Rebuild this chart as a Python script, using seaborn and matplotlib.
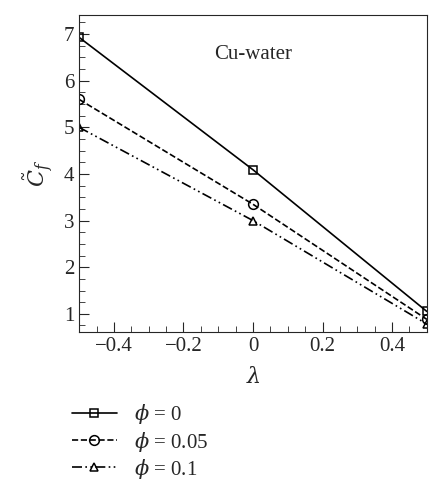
import matplotlib
matplotlib.use("Agg")
import matplotlib.pyplot as plt
import seaborn as sns
import pandas as pd
from matplotlib.ticker import MultipleLocator

lam = [-0.5, 0.0, 0.5]
cf_phi0 = [6.93, 4.09, 1.05]
cf_phi005 = [5.60, 3.35, 0.88]
cf_phi01 = [5.00, 3.00, 0.78]
labels = [r"$\phi$ = 0", r"$\phi$ = 0.05", r"$\phi$ = 0.1"]

sns.set_style("ticks")
plt.rcParams['font.family'] = ['Liberation Serif', 'DejaVu Serif']
plt.rcParams['mathtext.fontset'] = 'dejavuserif'

fig = plt.figure(figsize=(4.47, 5.0), dpi=100)
ax = fig.add_axes([0.177, 0.336, 0.778, 0.634])

styles = [("-", "s", 5.5), ("--", "o", 7), ((0, (6, 2, 1, 2, 1, 2)), "^", 6)]
for vals, lab, (ls, mk, ms) in zip([cf_phi0, cf_phi005, cf_phi01], labels, styles):
    df = pd.DataFrame({"lam": lam, "cf": vals})
    sns.lineplot(data=df, x="lam", y="cf", ax=ax, color="black", linestyle=ls, lw=1.2,
                 marker=mk, markersize=ms, markerfacecolor="none",
                 markeredgecolor="black", markeredgewidth=1.1, label=lab)

ax.set_xlim(-0.5, 0.5)
ax.set_ylim(0.61, 7.41)
ax.xaxis.set_major_locator(MultipleLocator(0.2))
ax.xaxis.set_minor_locator(MultipleLocator(0.05))
ax.yaxis.set_major_locator(MultipleLocator(1))
ax.yaxis.set_minor_locator(MultipleLocator(0.25))
ax.set_xticks([-0.4, -0.2, 0, 0.2, 0.4])
ax.set_xticklabels(["\u22120.4", "\u22120.2", "0", "0.2", "0.4"])
ax.tick_params(which="both", direction="in", top=False, right=False, labelsize=15)
ax.tick_params(which="major", length=7)
ax.tick_params(which="minor", length=4)
ax.set_xlabel(r"$\lambda$", fontsize=16, labelpad=8)
ax.set_ylabel(r"$\tilde{C}_f$", fontsize=16, labelpad=6)
ax.text(0.5, 0.86, "Cu-water", transform=ax.transAxes, ha="center", fontsize=15)

handles, labs = ax.get_legend_handles_labels()
ax.legend_.remove()
fig.legend(handles, labs, loc="upper left", bbox_to_anchor=(0.16, 0.195), frameon=False,
           fontsize=15, handlelength=2.2, labelspacing=0.15, borderaxespad=0, borderpad=0)

fig.savefig("out.png", dpi=100)
